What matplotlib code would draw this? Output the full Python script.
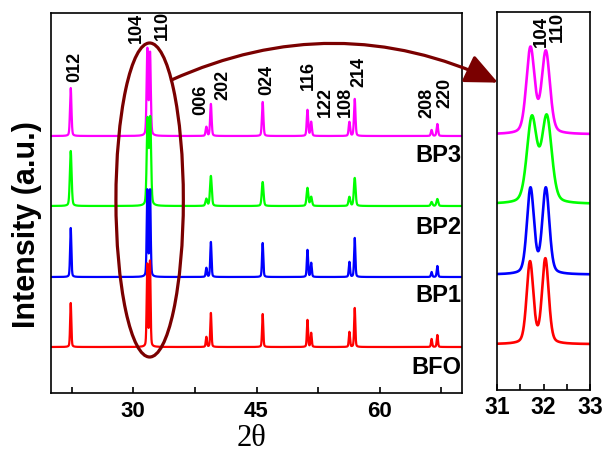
import numpy as np
import matplotlib
matplotlib.use('Agg')
import matplotlib.pyplot as plt
from matplotlib.patches import Ellipse, ConnectionPatch

plt.rcParams['font.family'] = ['Liberation Sans', 'DejaVu Sans']
plt.rcParams['font.weight'] = 'bold'

# Data
samples = ['BFO', 'BP1', 'BP2', 'BP3']
colors = ['#ff0000', '#0000ff', '#00ff00', '#ff00ff']
offsets = [46, 116, 187, 257]
hkl = ['012', '104', '110', '006', '202', '024', '116', '122', '108', '214', '208', '220']
pos_bfo = [22.4, 31.71, 32.04, 38.9, 39.45, 45.75, 51.2, 51.65, 56.3, 56.95, 66.3, 67.0]
pos_bp1 = [22.4, 31.72, 32.05, 38.9, 39.45, 45.75, 51.2, 51.65, 56.3, 56.95, 66.3, 67.0]
pos_bp2 = [22.4, 31.75, 32.07, 38.9, 39.45, 45.75, 51.2, 51.65, 56.3, 56.95, 66.3, 67.0]
pos_bp3 = [22.4, 31.72, 32.05, 38.9, 39.45, 45.75, 51.2, 51.65, 56.3, 56.95, 66.3, 67.0]
h_bfo = [44, 82, 85, 10, 34, 33, 27, 14, 15, 39, 8, 12]
h_bp1 = [49, 86, 86, 9, 35, 34, 27, 14, 15, 39, 5, 11]
h_bp2 = [55, 85, 86, 7, 30, 24, 18, 9, 9, 28, 4, 7]
h_bp3 = [48, 86, 82, 9, 32, 34, 26, 14, 14, 37, 6, 12]
fwhm = [0.17, 0.18, 0.25, 0.21]

positions = [pos_bfo, pos_bp1, pos_bp2, pos_bp3]
heights = [h_bfo, h_bp1, h_bp2, h_bp3]

# label placement (2theta, y) for the hkl tags
label_xy = [(22.93, 311), (30.37, 350), (33.54, 353), (38.26, 278), (40.94, 293),
            (46.22, 298), (51.34, 303), (53.41, 276), (55.85, 276), (57.44, 306),
            (65.73, 275), (67.93, 285)]
name_y = [26, 97, 166, 238]


def pattern(x, pos, h, w, base):
    # pseudo-Voigt peaks built from the read peak list
    y = np.full_like(x, base, dtype=float)
    for p, a in zip(pos, h):
        g = np.exp(-4 * np.log(2) * ((x - p) / w) ** 2)
        l = 1 / (1 + 4 * ((x - p) / w) ** 2)
        y += a * (0.7 * g + 0.3 * l)
    return y


fig = plt.figure(figsize=(6.05, 4.55), dpi=100)
ax = fig.add_axes([51/605, 1-393/455, 411/605, 380/455])
ax2 = fig.add_axes([497/605, 1-390/455, 93/605, 378/455])

x = np.linspace(20, 70, 20001)
xi = np.linspace(31, 33, 2001)
for i in [3, 2, 1, 0]:
    ax.plot(x, pattern(x, positions[i], heights[i], fwhm[i], offsets[i]),
            color=colors[i], lw=1.6)
    ax2.plot(xi, pattern(xi, positions[i], heights[i], fwhm[i], offsets[i]),
             color=colors[i], lw=1.9)

for i, s in enumerate(samples):
    ax.text(69.9, name_y[i], s, ha='right', va='center', fontsize=17)

for t, (lx, ly) in zip(hkl, label_xy):
    ax.text(lx, ly, t, rotation=90, ha='center', va='bottom', fontsize=13)

ax2.text(31.96, 345, '104', rotation=90, ha='center', va='bottom', fontsize=13.5)
ax2.text(32.29, 350, '110', rotation=90, ha='center', va='bottom', fontsize=13.5)

ax.set_xlim(20, 70)
ax.set_ylim(0, 380)
ax.set_xticks([30, 45, 60])
ax.set_xticks([22.5, 37.5, 52.5, 67.5], minor=True)
ax.set_yticks([])
ax.tick_params(axis='x', which='both', direction='in', length=4, width=1.2,
               labelsize=16, pad=6)

ax2.set_xlim(31, 33)
ax2.set_ylim(0, 380)
ax2.set_xticks([31, 32, 33])
ax2.set_xticks([31.5, 32.5], minor=True)
ax2.set_yticks([])
ax2.tick_params(axis='x', which='both', direction='in', length=4, width=1.2,
                labelsize=16.5, pad=4)

for a in [ax, ax2]:
    for sp in a.spines.values():
        sp.set_linewidth(1.2)

dark = '#7a0000'
ell = Ellipse((32.0, 193), 8.2, 314, fill=False, ec=dark, lw=2.3, zorder=5)
ax.add_patch(ell)

con = ConnectionPatch(xyA=(34.65, 313), coordsA='data', axesA=ax,
                      xyB=(31.02, 309), coordsB='data', axesB=ax2,
                      arrowstyle='-|>,head_length=1.0,head_width=0.45',
                      mutation_scale=20, connectionstyle='arc3,rad=-0.23',
                      color=dark, lw=2.3, zorder=6)
fig.add_artist(con)

fig.text(251/605, 1-438/455, '2θ', ha='center', va='center', fontsize=22,
         family='Liberation Serif', fontweight='normal')
fig.text(27/605, 1-225/455, 'Intensity (a.u.)', rotation=90, ha='center',
         va='center', fontsize=22)

fig.savefig('out.png', dpi=100)
